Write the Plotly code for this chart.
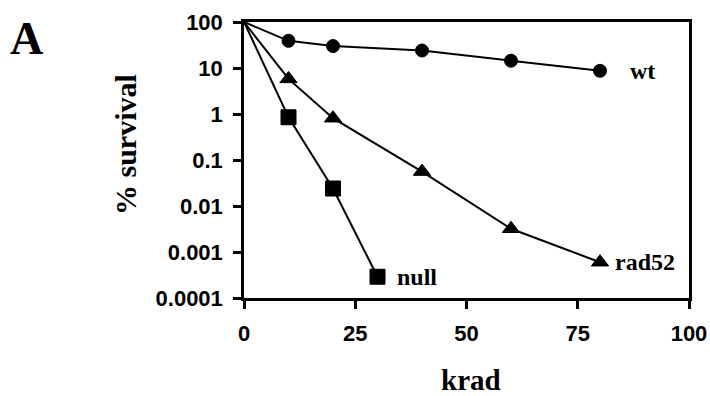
import plotly.graph_objects as go
import math

# Data
wt_x = [0, 10, 20, 40, 60, 80]
wt_y = [100, 39, 30, 24, 14.4, 8.7]
rad52_x = [0, 10, 20, 40, 60, 80]
rad52_y = [100, 5.8, 0.81, 0.056, 0.0032, 0.0006]
null_x = [0, 10, 20, 30]
null_y = [100, 0.85, 0.024, 0.00029]

x_ticks = [0, 25, 50, 75, 100]
y_ticks = [100, 10, 1, 0.1, 0.01, 0.001, 0.0001]
y_tick_text = ["100", "10", "1", "0.1", "0.01", "0.001", "0.0001"]

SANS = "Liberation Sans"
SERIF = "Liberation Serif"

W, H = 710, 396
L, R, T, B = 244, 689, 22, 298  # plot area in page pixels

def px(xp):
    return (xp - L) / (R - L)

def py(yp):
    return (B - yp) / (B - T)

fig = go.Figure()

def add_series(xs, ys, symbol, size):
    sizes = [0] + [size] * (len(xs) - 1)
    fig.add_trace(go.Scatter(
        x=xs, y=ys, mode="lines+markers",
        line=dict(color="black", width=2),
        marker=dict(symbol=symbol, size=sizes, color="black", opacity=1,
                    line=dict(width=1, color="black")),
        cliponaxis=False, showlegend=False,
    ))

add_series(wt_x, wt_y, "circle", 13)
add_series(rad52_x, rad52_y, "triangle-up", 15)
add_series(null_x, null_y, "square", 15)

lab_font = dict(family=SERIF, size=24, color="black", weight="bold")
fig.add_annotation(x=86.3, y=math.log10(8.7), text="wt", showarrow=False,
                   xanchor="left", yanchor="middle", font=lab_font)
fig.add_annotation(x=83.0, y=math.log10(0.0006), text="rad52", showarrow=False,
                   xanchor="left", yanchor="middle", font=lab_font)
fig.add_annotation(x=34.0, y=math.log10(0.00029), text="null", showarrow=False,
                   xanchor="left", yanchor="middle", font=lab_font)

# Panel letter and axis titles
fig.add_annotation(xref="paper", yref="paper", x=px(26), y=py(38),
                   text="A", showarrow=False, xanchor="center", yanchor="middle",
                   font=dict(family=SERIF, size=46, color="black", weight="bold"))
fig.add_annotation(xref="paper", yref="paper", x=px(125), y=py(145),
                   text="% survival", showarrow=False, textangle=-90,
                   xanchor="center", yanchor="middle",
                   font=dict(family=SERIF, size=30, color="black", weight="bold"))
fig.add_annotation(xref="paper", yref="paper", x=px(471), y=py(380),
                   text="krad", showarrow=False, xanchor="center", yanchor="middle",
                   font=dict(family=SERIF, size=29, color="black", weight="bold"))

tick_font = dict(family=SANS, size=22, color="black", weight="bold")

fig.update_xaxes(
    range=[0, 100], tickvals=x_ticks, ticks="outside", ticklen=8, tickwidth=2.5,
    tickcolor="black", showline=True, linecolor="black", linewidth=2.5, mirror=True,
    showgrid=False, zeroline=False, tickfont=tick_font, ticklabelstandoff=6,
    automargin=False,
)
fig.update_yaxes(
    type="log", range=[-4, 2], tickvals=y_ticks, ticktext=y_tick_text,
    ticks="outside", ticklen=8, tickwidth=2.5, tickcolor="black",
    showline=True, linecolor="black", linewidth=2.5, mirror=True,
    showgrid=False, zeroline=False, tickfont=tick_font, ticklabelstandoff=6,
    automargin=False,
)

fig.update_layout(
    width=W, height=H,
    margin=dict(l=L, r=W - R, t=T, b=H - B, autoexpand=False),
    paper_bgcolor="white", plot_bgcolor="white",
)

fig.write_html(
    "out.html",
    config={"displayModeBar": False},
    post_script="document.body.style.margin='0';document.body.style.overflow='hidden';",
)
